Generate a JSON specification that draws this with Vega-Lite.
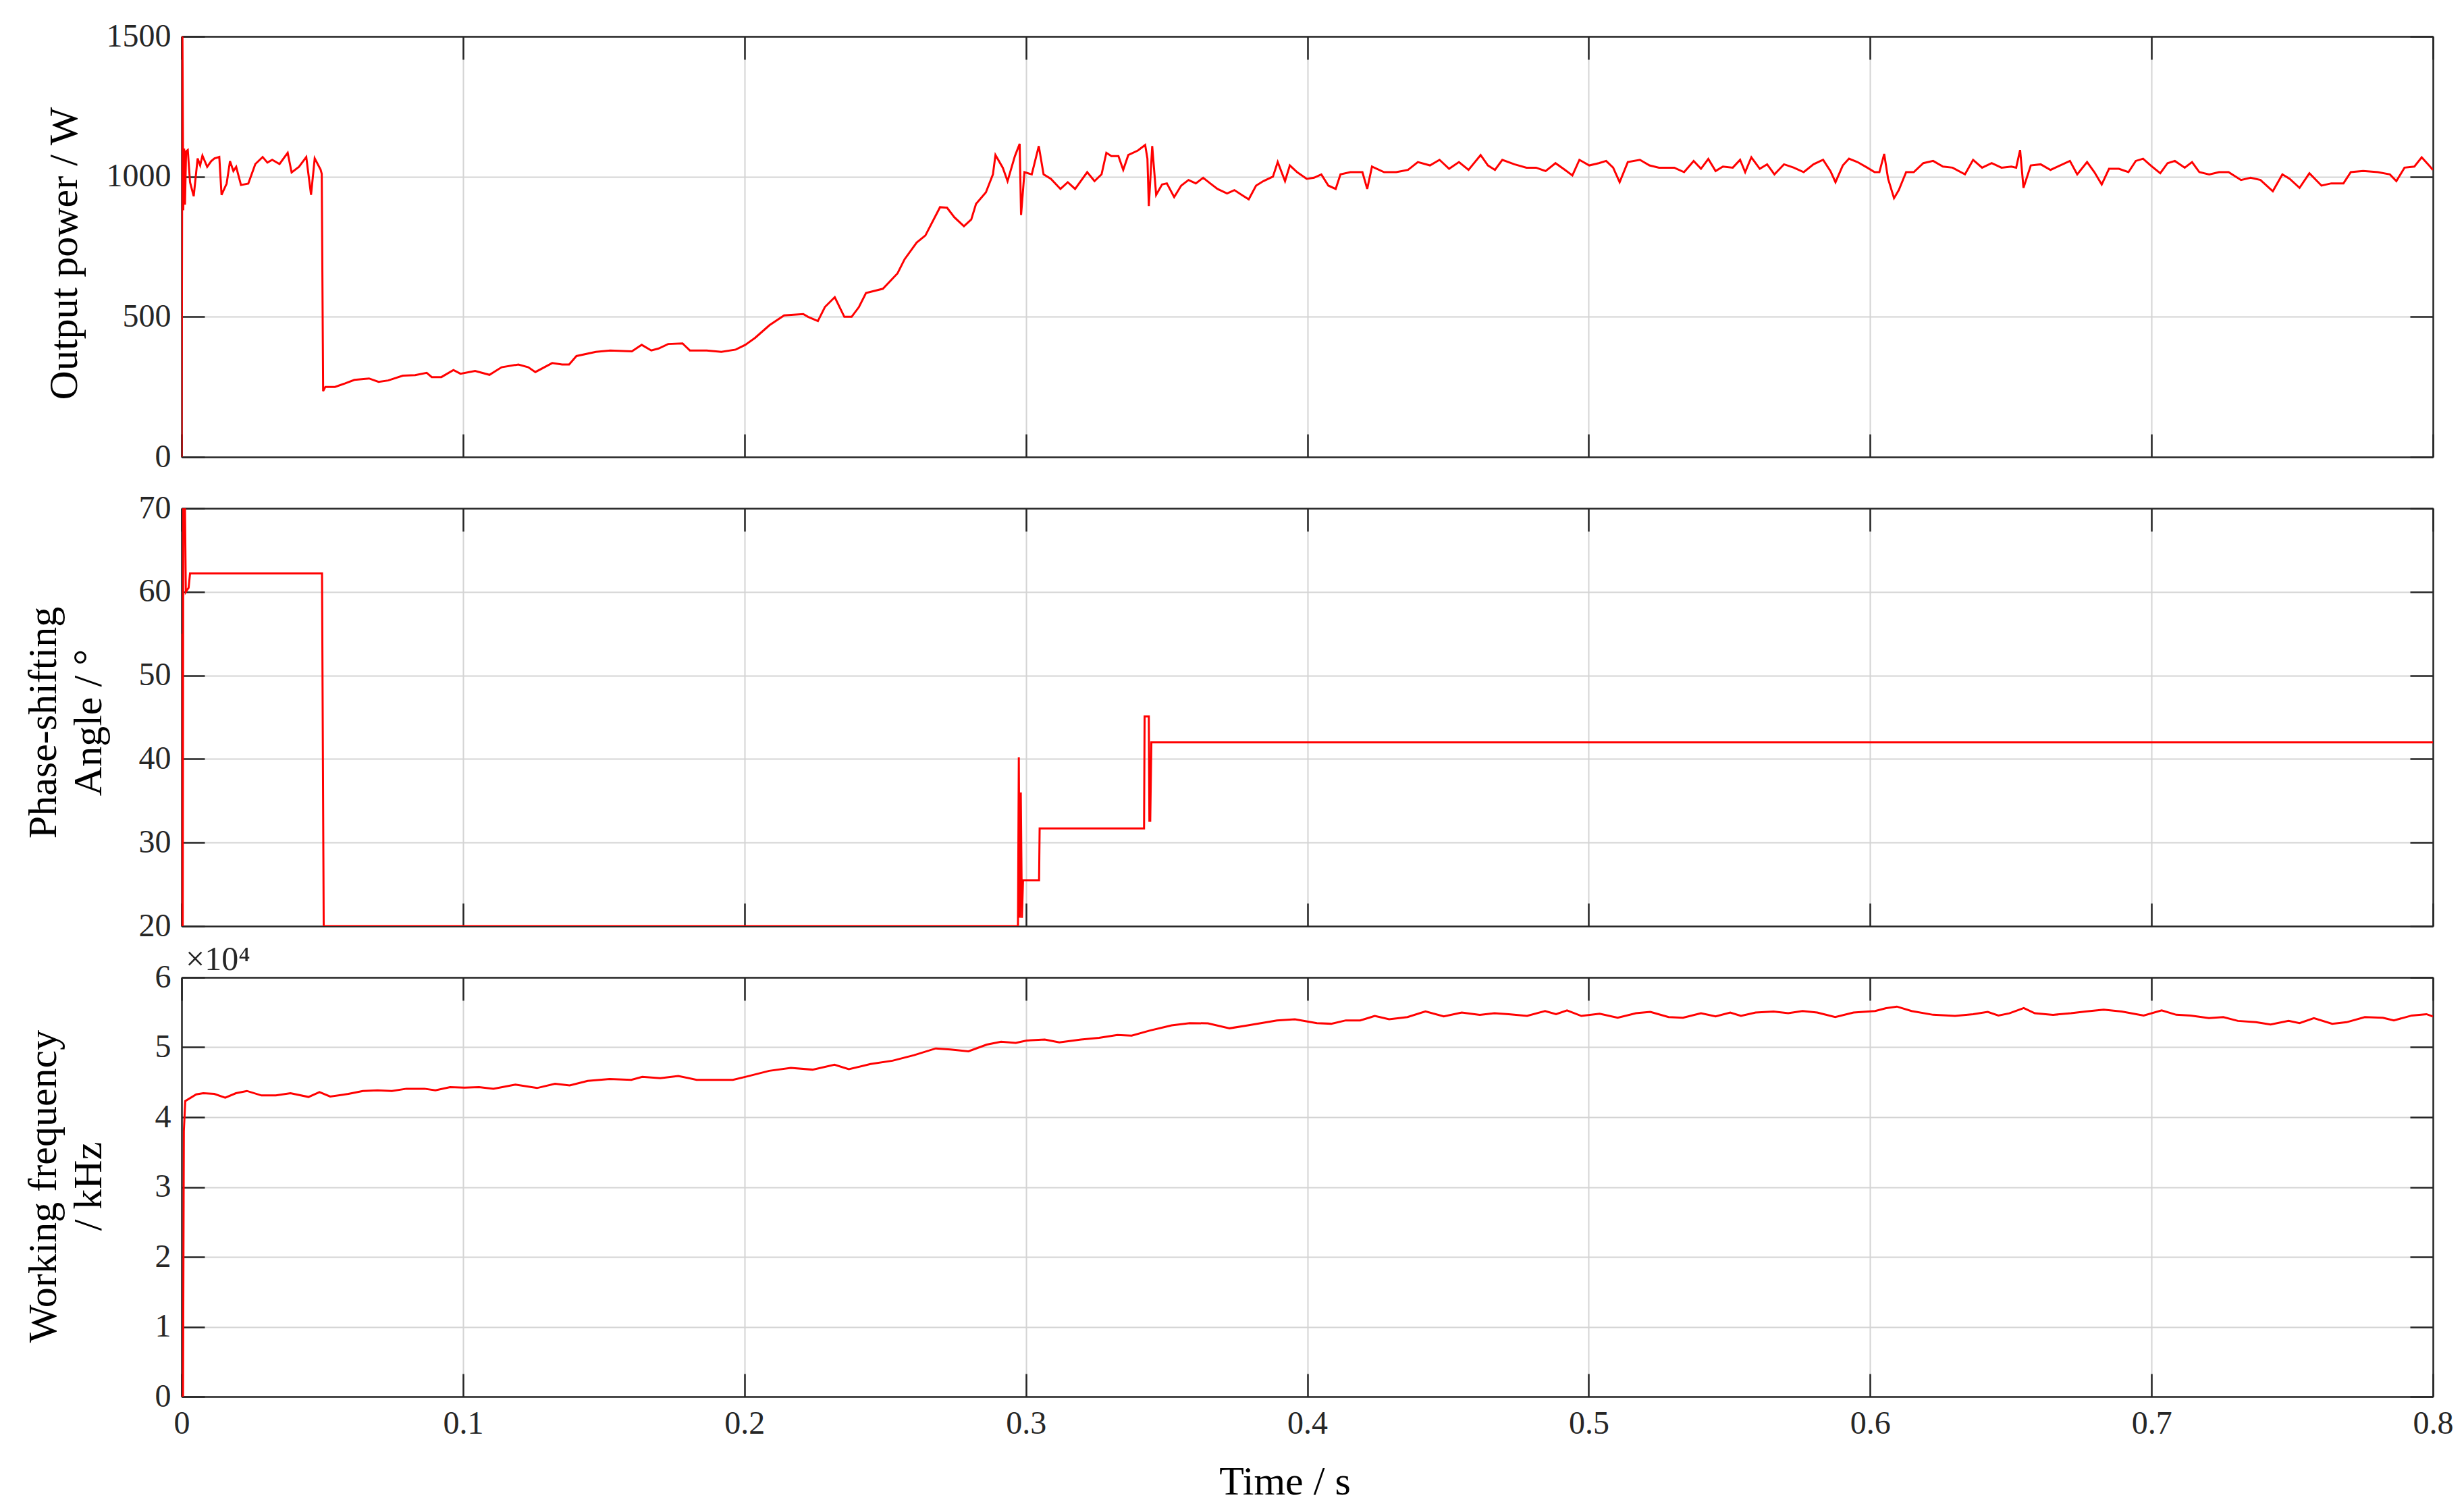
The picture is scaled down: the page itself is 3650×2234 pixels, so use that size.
{
  "$schema": "https://vega.github.io/schema/vega-lite/v6.json",
  "background": "white",
  "padding": {"left": 34, "top": 30, "right": 30, "bottom": 10},
  "bounds": "flush",
  "spacing": 76,
  "config": {
    "view": {"stroke": null},
    "axis": {
      "domainColor": "#262626", "domainWidth": 2.5,
      "tickColor": "#262626", "tickWidth": 2.5, "tickSize": -34,
      "gridColor": "#d4d4d4", "gridWidth": 2,
      "labelFont": "Liberation Serif", "labelFontSize": 48, "labelColor": "#262626",
      "labelPadding": 50, "labelFlush": false, "labelOverlap": false,
      "titleFont": "Liberation Serif", "titleFontSize": 60, "titleFontWeight": "normal",
      "titleColor": "#000000", "titleLineHeight": 67
    }
  },
  "datasets": {
    "power": [
      {"t":0,"p":0},{"t":0.0003,"p":1500},{"t":0.0006,"p":880},{"t":0.0009,"p":1100},{"t":0.0012,"p":900},{"t":0.0016,"p":1090},{"t":0.0022,"p":1095},{"t":0.003,"p":980},{"t":0.0043,"p":930},{"t":0.0057,"p":1065},{"t":0.0066,"p":1040},{"t":0.0074,"p":1075},{"t":0.0091,"p":1035},{"t":0.0105,"p":1055},{"t":0.0117,"p":1065},{"t":0.0134,"p":1070},{"t":0.0142,"p":935},{"t":0.016,"p":975},{"t":0.0172,"p":1055},{"t":0.0184,"p":1020},{"t":0.0194,"p":1035},{"t":0.0211,"p":970},{"t":0.0237,"p":975},{"t":0.0262,"p":1045},{"t":0.0288,"p":1070},{"t":0.0305,"p":1050},{"t":0.0322,"p":1060},{"t":0.0348,"p":1045},{"t":0.0377,"p":1085},{"t":0.0391,"p":1015},{"t":0.0417,"p":1035},{"t":0.0443,"p":1070},{"t":0.046,"p":935},{"t":0.0473,"p":1065},{"t":0.0494,"p":1025},{"t":0.0498,"p":1010},
      {"t":0.0503,"p":235},{"t":0.0511,"p":250},{"t":0.0545,"p":250},{"t":0.058,"p":262},{"t":0.0614,"p":275},{"t":0.0666,"p":280},{"t":0.07,"p":268},{"t":0.0734,"p":273},{"t":0.0786,"p":290},{"t":0.083,"p":292},{"t":0.0871,"p":300},{"t":0.0889,"p":285},{"t":0.0923,"p":285},{"t":0.0966,"p":310},{"t":0.0991,"p":297},{"t":0.1043,"p":307},{"t":0.1094,"p":293},{"t":0.1137,"p":320},{"t":0.1197,"p":330},{"t":0.1232,"p":320},{"t":0.1257,"p":303},{"t":0.1317,"p":335},{"t":0.1352,"p":330},{"t":0.1377,"p":330},{"t":0.1403,"p":360},{"t":0.1472,"p":375},{"t":0.1523,"p":380},{"t":0.16,"p":377},{"t":0.1635,"p":400},{"t":0.1669,"p":380},{"t":0.1695,"p":387},{"t":0.1729,"p":403},{"t":0.178,"p":405},{"t":0.1806,"p":380},{"t":0.1866,"p":380},{"t":0.1918,"p":375},{"t":0.1969,"p":383},{"t":0.2003,"p":400},{"t":0.2038,"p":425},{"t":0.2089,"p":470},{"t":0.2141,"p":505},{"t":0.2209,"p":510},{"t":0.2226,"p":500},{"t":0.2261,"p":485},{"t":0.2286,"p":535},{"t":0.2321,"p":570},{"t":0.2355,"p":500},{"t":0.2381,"p":500},{"t":0.2407,"p":535},{"t":0.2432,"p":585},{"t":0.2492,"p":600},{"t":0.2544,"p":655},{"t":0.2569,"p":705},{"t":0.2612,"p":765},
      {"t":0.2643,"p":790},{"t":0.2695,"p":891},{"t":0.272,"p":889},{"t":0.2746,"p":855},{"t":0.278,"p":823},{"t":0.2806,"p":847},{"t":0.2823,"p":903},{"t":0.2858,"p":944},{"t":0.2883,"p":1008},{"t":0.2892,"p":1077},{"t":0.2918,"p":1032},{"t":0.2935,"p":984},{"t":0.2961,"p":1073},{"t":0.2978,"p":1117},{"t":0.2983,"p":863},{"t":0.2995,"p":1016},{"t":0.3021,"p":1008},{"t":0.3046,"p":1109},{"t":0.3063,"p":1008},{"t":0.3089,"p":992},{"t":0.3123,"p":956},{"t":0.3149,"p":980},{"t":0.3175,"p":956},{"t":0.3218,"p":1016},{"t":0.3244,"p":984},{"t":0.3269,"p":1008},{"t":0.3286,"p":1085},{"t":0.3304,"p":1073},{"t":0.3329,"p":1073},{"t":0.3346,"p":1024},{"t":0.3364,"p":1077},{"t":0.3398,"p":1093},{"t":0.3424,"p":1113},{"t":0.3432,"p":1064},{"t":0.3437,"p":895},{"t":0.3449,"p":1109},{"t":0.3463,"p":935},{"t":0.3484,"p":972},{"t":0.3501,"p":976},{"t":0.3527,"p":927},{"t":0.3552,"p":968},{"t":0.3578,"p":988},{"t":0.3604,"p":976},{"t":0.363,"p":996},{"t":0.3655,"p":976},{"t":0.3681,"p":956},{"t":0.3715,"p":940},{"t":0.3741,"p":952},{"t":0.3767,"p":935},{"t":0.3792,"p":919},{"t":0.3818,"p":968},{"t":0.3844,"p":984},{"t":0.3878,"p":1000},{"t":0.3895,"p":1052},{"t":0.3921,"p":984},{"t":0.3938,"p":1040},{"t":0.3964,"p":1016},{"t":0.3998,"p":992},{"t":0.4024,"p":996},{"t":0.405,"p":1008},{"t":0.4075,"p":968},{"t":0.4101,"p":956},{"t":0.4118,"p":1008},{"t":0.4153,"p":1016},{"t":0.4196,"p":1016},{"t":0.4213,"p":956},{"t":0.423,"p":1036},{"t":0.4273,"p":1016},{"t":0.4316,"p":1016},{"t":0.4358,"p":1024},{"t":0.4393,"p":1052},{"t":0.4436,"p":1040},{"t":0.447,"p":1060},{"t":0.4504,"p":1028},{"t":0.4539,"p":1052},{"t":0.4573,"p":1024},{"t":0.4616,"p":1077},{"t":0.4642,"p":1040},{"t":0.4667,"p":1024},{"t":0.4693,"p":1060},{"t":0.4736,"p":1044},{"t":0.4779,"p":1032},{"t":0.4813,"p":1032},{"t":0.4847,"p":1020},{"t":0.4882,"p":1048},{"t":0.4916,"p":1024},{"t":0.4942,"p":1004},{"t":0.4967,"p":1060},{"t":0.5002,"p":1040},{"t":0.5036,"p":1048},{"t":0.5062,"p":1056},{"t":0.5087,"p":1032},{"t":0.511,"p":980},{"t":0.5139,"p":1052},{"t":0.5182,"p":1060},{"t":0.5216,"p":1040},{"t":0.525,"p":1032},
      {"t":0.5304,"p":1032},{"t":0.5339,"p":1016},{"t":0.5373,"p":1056},{"t":0.5399,"p":1028},{"t":0.5425,"p":1063},{"t":0.5451,"p":1020},{"t":0.5477,"p":1036},{"t":0.5512,"p":1032},{"t":0.5538,"p":1060},{"t":0.5556,"p":1016},{"t":0.5578,"p":1069},{"t":0.5608,"p":1028},{"t":0.5634,"p":1044},{"t":0.566,"p":1008},{"t":0.5694,"p":1044},{"t":0.5729,"p":1032},{"t":0.5764,"p":1016},{"t":0.5799,"p":1044},{"t":0.5833,"p":1060},{"t":0.5859,"p":1020},{"t":0.5877,"p":980},{"t":0.5903,"p":1040},{"t":0.5925,"p":1064},{"t":0.5955,"p":1052},{"t":0.599,"p":1032},{"t":0.6016,"p":1016},{"t":0.6033,"p":1016},{"t":0.605,"p":1081},{"t":0.6064,"p":992},{"t":0.6085,"p":923},{"t":0.6102,"p":952},{"t":0.6128,"p":1016},{"t":0.6155,"p":1016},{"t":0.6189,"p":1048},{"t":0.6224,"p":1056},{"t":0.6259,"p":1036},{"t":0.6293,"p":1032},{"t":0.6337,"p":1008},{"t":0.6366,"p":1060},{"t":0.6398,"p":1032},{"t":0.6432,"p":1048},{"t":0.6467,"p":1032},{"t":0.6502,"p":1036},{"t":0.6519,"p":1032},{"t":0.6533,"p":1095},{"t":0.6545,"p":960},{"t":0.6571,"p":1040},{"t":0.6606,"p":1044},{"t":0.6641,"p":1024},{"t":0.6675,"p":1040},{"t":0.671,"p":1056},{"t":0.6736,"p":1008},{"t":0.6771,"p":1052},{"t":0.6797,"p":1016},{"t":0.6823,"p":972},{"t":0.6849,"p":1028},{"t":0.6884,"p":1028},{"t":0.6918,"p":1016},{"t":0.6944,"p":1056},{"t":0.697,"p":1064},{"t":0.6997,"p":1040},{"t":0.7031,"p":1012},{"t":0.7057,"p":1048},{"t":0.7083,"p":1056},{"t":0.7118,"p":1032},{"t":0.7144,"p":1052},{"t":0.717,"p":1016},{"t":0.7205,"p":1008},{"t":0.724,"p":1016},{"t":0.7274,"p":1016},{"t":0.7318,"p":988},{"t":0.7352,"p":996},{"t":0.7387,"p":988},{"t":0.7431,"p":948},{"t":0.7465,"p":1008},{"t":0.7491,"p":992},{"t":0.7526,"p":960},{"t":0.7561,"p":1012},{"t":0.7604,"p":968},{"t":0.7639,"p":976},{"t":0.7682,"p":976},{"t":0.7708,"p":1016},{"t":0.7752,"p":1020},{"t":0.7804,"p":1016},{"t":0.7847,"p":1008},{"t":0.787,"p":984},{"t":0.7899,"p":1032},{"t":0.7934,"p":1036},{"t":0.796,"p":1069},{"t":0.7986,"p":1040},{"t":0.8,"p":1024}
    ],
    "angle": [
      {"t":0,"a":20},{"t":0.0002,"a":55},{"t":0.0004,"a":20},{"t":0.0006,"a":70},{"t":0.0012,"a":70},{"t":0.0015,"a":60},{"t":0.0025,"a":60.5},{"t":0.003,"a":62.2},{"t":0.0499,"a":62.2},{"t":0.0505,"a":20},{"t":0.2972,"a":20},{"t":0.2975,"a":40.2},{"t":0.2978,"a":21},{"t":0.2982,"a":36},{"t":0.2986,"a":21},{"t":0.299,"a":25.5},{"t":0.3047,"a":25.5},{"t":0.3049,"a":31.7},{"t":0.342,"a":31.7},{"t":0.3422,"a":45.1},{"t":0.3437,"a":45.1},{"t":0.3439,"a":32.6},{"t":0.3442,"a":32.6},{"t":0.3446,"a":42},{"t":0.8,"a":42}
    ],
    "freq": [
      {"t":0,"f":0},{"t":0.0005,"f":0},{"t":0.0008,"f":38000},{"t":0.0013,"f":42300},{"t":0.0052,"f":43270},{"t":0.0077,"f":43430},{"t":0.0116,"f":43330},{"t":0.0155,"f":42790},{"t":0.0193,"f":43430},{"t":0.0232,"f":43750},{"t":0.0284,"f":43110},{"t":0.0335,"f":43110},{"t":0.0387,"f":43430},{"t":0.0451,"f":42890},{"t":0.049,"f":43590},{"t":0.0528,"f":42950},{"t":0.0593,"f":43330},{"t":0.0644,"f":43750},{"t":0.0696,"f":43850},{"t":0.0747,"f":43750},{"t":0.0799,"f":44070},{"t":0.0863,"f":44070},{"t":0.0902,"f":43850},{"t":0.0954,"f":44290},{"t":0.1005,"f":44230},{"t":0.1057,"f":44290},{"t":0.1108,"f":44070},{"t":0.1186,"f":44650},{"t":0.1263,"f":44170},{"t":0.1327,"f":44780},{"t":0.1379,"f":44550},{"t":0.1443,"f":45190},{"t":0.1521,"f":45450},{"t":0.1598,"f":45350},{"t":0.1637,"f":45770},{"t":0.1701,"f":45580},{"t":0.1765,"f":45900},{"t":0.183,"f":45350},{"t":0.1894,"f":45350},{"t":0.1959,"f":45350},{"t":0.201,"f":45830},{"t":0.2088,"f":46630},{"t":0.2165,"f":47050},{"t":0.2242,"f":46800},{"t":0.232,"f":47500},{"t":0.2371,"f":46860},{"t":0.2448,"f":47600},{"t":0.2526,"f":48080},{"t":0.2603,"f":48880},{"t":0.268,"f":49840},{"t":0.2732,"f":49680},{"t":0.2796,"f":49420},{"t":0.2861,"f":50380},{"t":0.2912,"f":50800},{"t":0.2964,"f":50640},{"t":0.3003,"f":50960},{"t":0.3067,"f":51120},{"t":0.3119,"f":50700},{"t":0.3196,"f":51120},{"t":0.326,"f":51350},{"t":0.3325,"f":51760},{"t":0.3376,"f":51670},{"t":0.3441,"f":52400},{"t":0.3518,"f":53140},{"t":0.3582,"f":53460},{"t":0.3647,"f":53430},{"t":0.3724,"f":52720},{"t":0.3789,"f":53140},{"t":0.3892,"f":53850},{"t":0.3956,"f":54010},{"t":0.4034,"f":53460},{"t":0.4085,"f":53370},{"t":0.4137,"f":53850},{"t":0.4188,"f":53850},{"t":0.424,"f":54490},{"t":0.4291,"f":54010},{"t":0.4356,"f":54330},{"t":0.442,"f":55130},{"t":0.4485,"f":54420},{"t":0.4549,"f":54970},{"t":0.4613,"f":54650},{"t":0.4665,"f":54870},{"t":0.4716,"f":54740},{"t":0.4781,"f":54490},{"t":0.4845,"f":55190},{"t":0.4884,"f":54740},{"t":0.4923,"f":55290},{"t":0.4974,"f":54490},{"t":0.5039,"f":54810},{"t":0.5103,"f":54230},{"t":0.5168,"f":54870},{"t":0.5219,"f":55060},{"t":0.5284,"f":54330},{"t":0.5335,"f":54230},{"t":0.5399,"f":54870},{"t":0.5451,"f":54420},{"t":0.5503,"f":54970},{"t":0.5541,"f":54490},{"t":0.5593,"f":54970},{"t":0.5657,"f":55130},{"t":0.5709,"f":54870},{"t":0.576,"f":55190},{"t":0.5812,"f":54970},{"t":0.5876,"f":54330},{"t":0.5941,"f":54970},{"t":0.6018,"f":55190},{"t":0.6057,"f":55610},{"t":0.6095,"f":55830},{"t":0.6147,"f":55190},{"t":0.6224,"f":54650},{"t":0.6302,"f":54490},{"t":0.6366,"f":54740},{"t":0.6418,"f":55060},{"t":0.6456,"f":54550},{"t":0.6495,"f":54870},{"t":0.6546,"f":55610},{"t":0.6585,"f":54870},{"t":0.665,"f":54650},{"t":0.6714,"f":54870},{"t":0.6765,"f":55130},{"t":0.683,"f":55380},{"t":0.6894,"f":55130},{"t":0.6972,"f":54550},{"t":0.7036,"f":55290},{"t":0.7088,"f":54650},{"t":0.7139,"f":54550},{"t":0.7204,"f":54170},{"t":0.7255,"f":54330},{"t":0.7307,"f":53780},{"t":0.7371,"f":53590},{"t":0.7423,"f":53270},{"t":0.7487,"f":53780},{"t":0.7526,"f":53460},{"t":0.7577,"f":54170},{"t":0.7642,"f":53370},{"t":0.7693,"f":53590},{"t":0.7758,"f":54330},{"t":0.7822,"f":54230},{"t":0.7861,"f":53850},{"t":0.7925,"f":54550},{"t":0.7977,"f":54740},{"t":0.8,"f":54420}
    ],
    "mult": [{"t":0,"f":60000,"label":"×10⁴"}]
  },
  "vconcat": [
    {
      "width": 3335, "height": 623,
      "resolve": {"axis": {"x": "independent", "y": "independent"}},
      "layer": [
        {
          "data": {"name": "power"},
          "mark": {"type": "line", "color": "#ff0000", "strokeWidth": 3, "clip": true},
          "encoding": {
            "x": {"field": "t", "type": "quantitative", "scale": {"domain": [0, 0.8], "nice": false, "zero": false},
                  "axis": {"orient": "bottom", "values": [0,0.1,0.2,0.3,0.4,0.5,0.6,0.7,0.8], "labels": false, "title": null, "grid": true}},
            "y": {"field": "p", "type": "quantitative", "scale": {"domain": [0, 1500], "nice": false},
                  "axis": {"orient": "left", "values": [0,500,1000,1500], "format": "d", "grid": true, "title": "Output power / W",
                           "titleX": -174, "titleY": 321, "titleAngle": -90, "titleBaseline": "middle", "titleAlign": "center"}}
          }
        },
        {
          "data": {"name": "power"},
          "mark": {"type": "line", "opacity": 0},
          "encoding": {
            "x": {"field": "t", "type": "quantitative", "axis": {"orient": "top", "values": [0,0.1,0.2,0.3,0.4,0.5,0.6,0.7,0.8], "labels": false, "title": null, "grid": false}},
            "y": {"field": "p", "type": "quantitative", "axis": {"orient": "right", "values": [0,500,1000,1500], "labels": false, "title": null, "grid": false}}
          }
        }
      ]
    },
    {
      "width": 3335, "height": 619,
      "resolve": {"axis": {"x": "independent", "y": "independent"}},
      "layer": [
        {
          "data": {"name": "angle"},
          "mark": {"type": "line", "color": "#ff0000", "strokeWidth": 3, "clip": true},
          "encoding": {
            "x": {"field": "t", "type": "quantitative", "scale": {"domain": [0, 0.8], "nice": false, "zero": false},
                  "axis": {"orient": "bottom", "values": [0,0.1,0.2,0.3,0.4,0.5,0.6,0.7,0.8], "labels": false, "title": null, "grid": true}},
            "y": {"field": "a", "type": "quantitative", "scale": {"domain": [20, 70], "nice": false, "zero": false},
                  "axis": {"orient": "left", "values": [20,30,40,50,60,70], "grid": true, "title": ["Phase-shifting", "Angle / °"],
                           "titleX": -205, "titleY": 317, "titleAngle": -90, "titleBaseline": "middle", "titleAlign": "center"}}
          }
        },
        {
          "data": {"name": "angle"},
          "mark": {"type": "line", "opacity": 0},
          "encoding": {
            "x": {"field": "t", "type": "quantitative", "axis": {"orient": "top", "values": [0,0.1,0.2,0.3,0.4,0.5,0.6,0.7,0.8], "labels": false, "title": null, "grid": false}},
            "y": {"field": "a", "type": "quantitative", "axis": {"orient": "right", "values": [20,30,40,50,60,70], "labels": false, "title": null, "grid": false}}
          }
        }
      ]
    },
    {
      "width": 3335, "height": 621,
      "resolve": {"axis": {"x": "independent", "y": "independent"}},
      "layer": [
        {
          "data": {"name": "freq"},
          "mark": {"type": "line", "color": "#ff0000", "strokeWidth": 3, "clip": true},
          "encoding": {
            "x": {"field": "t", "type": "quantitative", "scale": {"domain": [0, 0.8], "nice": false, "zero": false},
                  "axis": {"orient": "bottom", "values": [0,0.1,0.2,0.3,0.4,0.5,0.6,0.7,0.8], "format": ".1~f", "grid": true,
                           "title": "Time / s", "titleX": 1634, "titleY": 144, "titleBaseline": "alphabetic", "titleAlign": "center"}},
            "y": {"field": "f", "type": "quantitative", "scale": {"domain": [0, 60000], "nice": false},
                  "axis": {"orient": "left", "values": [0,10000,20000,30000,40000,50000,60000], "labelExpr": "datum.value / 10000", "grid": true,
                           "title": ["Working frequency", "/ kHz"],
                           "titleX": -205, "titleY": 309, "titleAngle": -90, "titleBaseline": "middle", "titleAlign": "center"}}
          }
        },
        {
          "data": {"name": "freq"},
          "mark": {"type": "line", "opacity": 0},
          "encoding": {
            "x": {"field": "t", "type": "quantitative", "axis": {"orient": "top", "values": [0,0.1,0.2,0.3,0.4,0.5,0.6,0.7,0.8], "labels": false, "title": null, "grid": false}},
            "y": {"field": "f", "type": "quantitative", "axis": {"orient": "right", "values": [0,10000,20000,30000,40000,50000,60000], "labels": false, "title": null, "grid": false}}
          }
        },
        {
          "data": {"name": "mult"},
          "mark": {"type": "text", "align": "left", "baseline": "alphabetic", "dx": 6, "dy": -11, "font": "Liberation Serif", "fontSize": 50, "color": "#262626"},
          "encoding": {
            "x": {"field": "t", "type": "quantitative", "axis": null},
            "y": {"field": "f", "type": "quantitative", "axis": null},
            "text": {"field": "label"}
          }
        }
      ]
    }
  ]
}
